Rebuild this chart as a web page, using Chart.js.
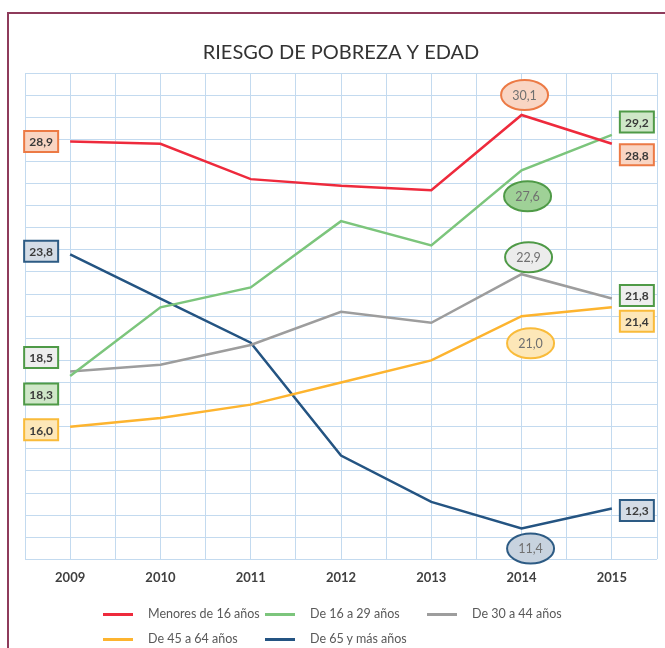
<!DOCTYPE html>
<html>
<head>
<meta charset="utf-8">
<script src="https://cdn.jsdelivr.net/npm/chart.js@4.4.1/dist/chart.umd.min.js"></script>
<style>
  body { margin: 0; background: #fff; font-family: Lato, sans-serif; }
  #wrap { position: relative; width: 665px; height: 648px; overflow: hidden; }
  #frame { position: absolute; left: 7px; top: 12px; width: 700px; height: 700px;
           border-left: 2px solid #8e3b5b; border-top: 2px solid #8e3b5b; }
  canvas { position: absolute; left: 0; top: 0; }
  .lg { position: absolute; font-size: 12.5px; color: #595959; white-space: nowrap; line-height: 16px; }
  .lg i { position: absolute; left: 0; top: 7px; width: 30px; height: 3px; }
  .lg span { position: absolute; left: 45px; top: 0; }
</style>
</head>
<body>
<div id="wrap">
  <div id="frame"></div>
  <canvas id="chart" width="665" height="648"></canvas>
  <div id="legend"></div>
</div>
<script>
const years = ['2009', '2010', '2011', '2012', '2013', '2014', '2015'];
const seriesNames = ['Menores de 16 años', 'De 16 a 29 años', 'De 30 a 44 años', 'De 45 a 64 años', 'De 65 y más años'];
const menores16 = [28.9, 28.8, 27.2, 26.9, 26.7, 30.1, 28.8];
const de16a29 = [18.3, 21.4, 22.3, 25.3, 24.2, 27.6, 29.2];
const de30a44 = [18.5, 18.8, 19.7, 21.2, 20.7, 22.9, 21.8];
const de45a64 = [16.0, 16.4, 17.0, 18.0, 19.0, 21.0, 21.4];
const de65mas = [23.8, 21.8, 19.8, 14.7, 12.6, 11.4, 12.3];
const yMin = 10, yMax = 32;

const lineColors = ['#ee2a3c', '#7cc57c', '#9d9d9d', '#fdb42f', '#245482'];

// callouts: which point, shape and where it sits relative to the point
const callouts = [
  { ds: 0, i: 0, shape: 'box', dx: -29, dy: 0, fill: '#f9d5c3', stroke: '#ec7a45' },
  { ds: 0, i: 5, shape: 'ell', dx: 3, dy: -20, fill: '#f9d5c3', stroke: '#ec7a45' },
  { ds: 0, i: 6, shape: 'box', dx: 25, dy: 11, fill: '#f9d5c3', stroke: '#ec7a45' },
  { ds: 1, i: 0, shape: 'box', dx: -29, dy: 18, fill: '#cfe7c8', stroke: '#4f9a47' },
  { ds: 1, i: 5, shape: 'ell', dx: 6, dy: 26, fill: '#9fd197', stroke: '#4f9a47' },
  { ds: 1, i: 6, shape: 'box', dx: 25, dy: -13, fill: '#cfe7c8', stroke: '#4f9a47' },
  { ds: 2, i: 0, shape: 'box', dx: -29, dy: -14, fill: '#eeeeee', stroke: '#4f9a47' },
  { ds: 2, i: 5, shape: 'ell', dx: 7, dy: -17, fill: '#ececec', stroke: '#4f9a47' },
  { ds: 2, i: 6, shape: 'box', dx: 25, dy: -3, fill: '#eeeeee', stroke: '#4f9a47' },
  { ds: 3, i: 0, shape: 'box', dx: -29, dy: 3, fill: '#fde7b8', stroke: '#f9bb3a' },
  { ds: 3, i: 5, shape: 'ell', dx: 9, dy: 27, fill: '#fde7b8', stroke: '#f9bb3a' },
  { ds: 3, i: 6, shape: 'box', dx: 25, dy: 14, fill: '#fde7b8', stroke: '#f9bb3a' },
  { ds: 4, i: 0, shape: 'box', dx: -29, dy: -3, fill: '#d4dce6', stroke: '#2d5b84' },
  { ds: 4, i: 5, shape: 'ell', dx: 9, dy: 20, fill: '#c8d3df', stroke: '#2d5b84' },
  { ds: 4, i: 6, shape: 'box', dx: 25, dy: 2, fill: '#d4dce6', stroke: '#2d5b84' }
];

const calloutPlugin = {
  id: 'callouts',
  afterDatasetsDraw(chart) {
    const ctx = chart.ctx;
    callouts.forEach(c => {
      const pt = chart.getDatasetMeta(c.ds).data[c.i];
      const v = chart.data.datasets[c.ds].data[c.i];
      const txt = v.toFixed(1).replace('.', ',');
      const x = pt.x + c.dx, y = pt.y + c.dy;
      ctx.save();
      ctx.fillStyle = c.fill;
      ctx.strokeStyle = c.stroke;
      ctx.lineWidth = 2;
      ctx.beginPath();
      if (c.shape === 'box') {
        ctx.rect(x - 17, y - 10.5, 34, 21);
      } else {
        ctx.ellipse(x, y, 23.5, 15, 0, 0, Math.PI * 2);
      }
      ctx.fill();
      ctx.stroke();
      ctx.textAlign = 'center';
      ctx.textBaseline = 'middle';
      if (c.shape === 'box') {
        ctx.font = 'bold 12px Lato';
        ctx.fillStyle = '#3a3a3a';
      } else {
        ctx.font = '12.5px Lato';
        ctx.fillStyle = '#707070';
      }
      ctx.fillText(txt, x, y + 1);
      ctx.restore();
    });
  }
};

const allSeries = [menores16, de16a29, de30a44, de45a64, de65mas];

const chart = new Chart(document.getElementById('chart'), {
  type: 'line',
  data: {
    labels: years,
    datasets: allSeries.map((d, k) => ({
      label: seriesNames[k],
      data: d,
      borderColor: lineColors[k],
      backgroundColor: lineColors[k],
      borderWidth: 2.5,
      pointRadius: 0,
      tension: 0
    }))
  },
  options: {
    responsive: false,
    animation: false,
    layout: { padding: { left: 25, right: 8, top: 0, bottom: 51 } },
    plugins: {
      legend: { display: false },
      tooltip: { enabled: false },
      title: {
        display: true,
        text: 'RIESGO DE POBREZA Y EDAD',
        color: '#333333',
        font: { family: 'Lato', size: 20, weight: 'normal' },
        padding: { top: 41, bottom: 8 }
      }
    },
    scales: {
      x: {
        offset: true,
        grid: { display: false, drawTicks: false },
        border: { display: false },
        ticks: { color: '#404040', font: { family: 'Lato', size: 13, weight: 'bold' }, padding: 11 }
      },
      xg: {
        type: 'linear',
        position: 'bottom',
        min: -0.5,
        max: 6.5,
        grid: { color: '#c3daef', lineWidth: 1, drawTicks: false },
        border: { display: false },
        ticks: { display: false, stepSize: 0.5 }
      },
      y: {
        min: yMin,
        max: yMax,
        grid: { color: '#c3daef', lineWidth: 1, drawTicks: false },
        border: { display: false },
        ticks: { display: false, stepSize: 1 }
      }
    }
  },
  plugins: [calloutPlugin]
});

// legend laid out in three columns like the original
const legend = document.getElementById('legend');
chart.data.datasets.forEach((ds, k) => {
  const el = document.createElement('div');
  el.className = 'lg';
  el.style.left = (103 + (k % 3) * 162) + 'px';
  el.style.top = (606 + Math.floor(k / 3) * 25) + 'px';
  el.innerHTML = '<i style="background:' + ds.borderColor + '"></i><span>' + ds.label + '</span>';
  legend.appendChild(el);
});
</script>
</body>
</html>
